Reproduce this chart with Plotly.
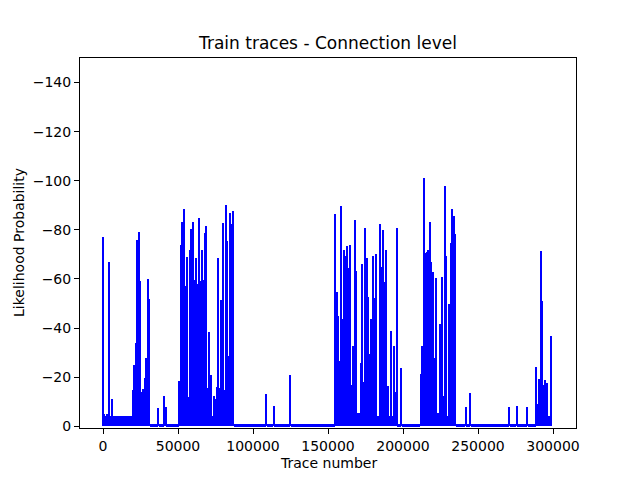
import plotly.graph_objects as go

# Trace-number bins (one bar per 1000 traces)
trace_numbers = list(range(0, 300000, 1000))

# Log-likelihood per bin
likelihood = [
    -77, -5, -4, -5, -67, -4, -11, -4, -4, -4,
    -4, -4, -4, -4, -4, -4, -4, -4, -4, -4,
    -14.6, -25, -34, -76, -79, -59, -14, -15, -19.5, -28,
    -60, -52, -0.8, -0.8, -0.8, -0.8, -0.8, -7.5, -0.8, -0.8,
    -0.8, -12.5, -8, -0.8, -0.8, -0.8, -0.8, -0.8, -0.8, -0.8,
    -0.8, -18.6, -74, -83.4, -88.7, -57, -69, -12, -71.6, -80.2,
    -83.4, -59.4, -68.6, -58, -84.7, -59, -72, -59.4, -78.6, -81.4,
    -15.4, -38.6, -20.7, -4, -12.5, -11, -15.8, -68.6, -15.4, -51.6,
    -82.9, -14.6, -90, -75.3, -28.8, -86.7, -82.2, -87.5, -0.8, -0.8,
    -0.8, -0.8, -0.8, -0.8, -0.8, -0.8, -0.8, -0.8, -0.8, -0.8,
    -0.8, -0.8, -0.8, -0.8, -0.8, -0.8, -0.8, -0.8, -0.8, -13.3,
    -0.8, -0.8, -0.8, -0.8, -8.4, -0.8, -0.8, -0.8, -0.8, -0.8,
    -0.8, -0.8, -0.8, -0.8, -0.8, -21, -0.8, -0.8, -0.8, -0.8,
    -0.8, -0.8, -0.8, -0.8, -0.8, -0.8, -0.8, -0.8, -0.8, -0.8,
    -0.8, -0.8, -0.8, -0.8, -0.8, -0.8, -0.8, -0.8, -0.8, -0.8,
    -0.8, -0.8, -0.8, -0.8, -0.8, -86.3, -54.5, -45.1, -26.4, -89.6,
    -43.9, -72, -69.2, -73.3, -64.3, -73.7, -17, -32.9, -83.9, -63.4,
    -5.6, -5.6, -25.9, -66.3, -18, -80.6, -68.4, -52.6, -29.6, -43.9,
    -69.2, -52.1, -70, -4, -4, -82.2, -64.7, -79.8, -58.6, -72,
    -16.6, -4, -39, -4, -32.9, -14, -80.6, -0.8, -0.8, -23.9,
    -0.8, -0.8, -0.8, -0.8, -0.8, -0.8, -0.8, -0.8, -0.8, -0.8,
    -0.8, -0.8, -21.1, -32.9, -101, -70.4, -70.8, -72, -83.4, -67,
    -63, -28, -60.6, -5.6, -5.6, -41.5, -61, -12.4, -97.7, -69.2,
    -4, -50, -74.8, -88.7, -85.8, -78.5, -0.8, -0.8, -0.8, -0.8,
    -0.8, -0.8, -8, -0.8, -0.8, -13.7, -0.8, -0.8, -0.8, -0.8,
    -0.8, -0.8, -0.8, -0.8, -0.8, -0.8, -0.8, -0.8, -0.8, -0.8,
    -0.8, -0.8, -0.8, -0.8, -0.8, -0.8, -0.8, -0.8, -0.8, -0.8,
    -0.8, -7.8, -0.8, -0.8, -0.8, -0.8, -8.2, -0.8, -0.8, -0.8,
    -0.8, -0.8, -0.8, -7.8, -0.8, -0.8, -0.8, -0.8, -0.8, -24,
    -9, -19.4, -71.2, -51.2, -17, -19, -17.8, -4, -4, -36.6,
]

x_tick_values = [0, 50000, 100000, 150000, 200000, 250000, 300000]
x_tick_labels = ["0", "50000", "100000", "150000", "200000", "250000", "300000"]
y_tick_values = [0, -20, -40, -60, -80, -100, -120, -140]
y_tick_labels = ["0", "\u221220", "\u221240", "\u221260", "\u221280", "\u2212100", "\u2212120", "\u2212140"]

FONT = "DejaVu Sans"

fig = go.Figure(
    go.Bar(
        x=trace_numbers,
        y=likelihood,
        width=700,
        marker=dict(color="#0000ff", line=dict(width=0)),
    )
)

axis_common = dict(
    showgrid=False,
    zeroline=False,
    showline=True,
    linecolor="black",
    linewidth=1,
    mirror=True,
    ticks="outside",
    ticklen=5,
    tickwidth=1,
    tickcolor="black",
    tickfont=dict(family=FONT, size=14, color="black"),
)

fig.update_layout(
    width=640,
    height=480,
    margin=dict(l=72, r=72, t=50, b=60),
    paper_bgcolor="white",
    plot_bgcolor="white",
    showlegend=False,
    bargap=0,
    title=dict(
        text="Train traces - Connection level",
        font=dict(family=FONT, size=17, color="black"),
        x=0.5,
        xref="paper",
        xanchor="center",
        y=1 - 35 / 480,
        yref="container",
        yanchor="middle",
    ),
    xaxis=dict(
        range=[-15333, 315333],
        tickvals=x_tick_values,
        ticktext=x_tick_labels,
        **axis_common,
    ),
    yaxis=dict(
        range=[0.7, -150],
        tickvals=y_tick_values,
        ticktext=y_tick_labels,
        **axis_common,
    ),
    annotations=[
        dict(
            text="Trace number",
            xref="paper", yref="paper", x=0.5, y=0,
            xanchor="center", yanchor="middle", yshift=-35,
            showarrow=False,
            font=dict(family=FONT, size=14, color="black"),
        ),
        dict(
            text="Likelihood Probability",
            xref="paper", yref="paper", x=0, y=0.5,
            xanchor="center", yanchor="middle", xshift=-61,
            textangle=-90,
            showarrow=False,
            font=dict(family=FONT, size=14, color="black"),
        ),
    ],
)

fig.write_html("out.html")
